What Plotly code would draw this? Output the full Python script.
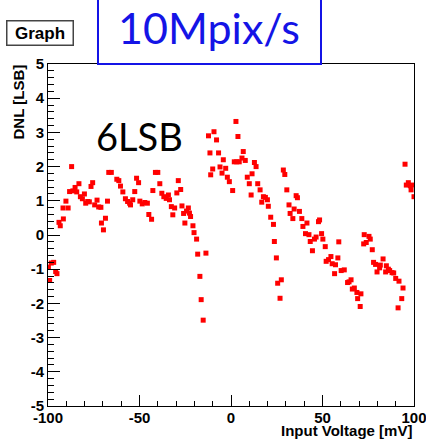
import plotly.graph_objects as go

# Input voltage [mV]
voltage = [
    -99.8, -99.1, -98.2, -96.9, -95.8, -95.1,
    -94.0, -93.3, -91.6, -91.8, -90.2, -89.0, -88.2, -87.1, -86.4, -85.2, -84.3, -83.1,
    -82.3, -81.2, -80.1, -79.4, -78.3, -77.4, -76.5, -75.6, -74.5, -73.2, -72.3, -71.1,
    -70.8, -69.7, -68.6, -67.5, -66.8, -65.4, -62.4, -61.3, -60.4, -59.1, -57.7, -56.5,
    -55.4, -54.9, -53.7, -52.6, -51.6, -50.5, -49.8, -48.5, -47.1, -45.7, -44.9, -43.4,
    -42.7, -41.3, -40.0, -38.9, -37.8, -36.7, -35.4, -34.2, -33.6, -32.6, -31.8, -30.8,
    -29.6, -28.8, -27.5, -26.8, -25.9, -25.2, -24.3, -23.3, -22.7, -22.1, -20.8, -20.2,
    -18.8, -18.2, -13.7, -17.0, -16.3, -15.2,
    -12.3, -11.5, -11.1, -10.0, -9.3, -7.9, -6.8, -6.0, -4.9, -4.2, -2.9, -2.0, -0.9, 0.9,
    2.7, 3.8, 1.8, 3.1, 4.5, 6.0, 6.7, 7.8, 8.9, 10.0, 11.0, 11.5, 12.8, 13.7, 14.6, 15.9,
    16.8, 17.7, 18.8, 19.9, 20.4, 21.7, 23.2, 23.7, 24.8, 25.5, 27.5, 26.8,
    28.6, 29.4, 30.5, 31.7, 32.3, 33.8, 34.5, 35.6, 36.3, 37.4, 38.7, 39.3, 41.5, 40.7,
    42.6, 43.3, 44.5, 45.6, 46.5, 47.8, 48.4, 49.5, 50.2, 51.5, 52.0, 53.3, 54.6, 55.3,
    56.6, 57.1, 58.4, 58.9, 60.2, 61.9, 63.7, 64.5, 65.6, 66.3, 67.4, 68.8, 69.2, 71.0, 70.6,
    72.8, 72.5, 73.9, 75.4, 76.1, 77.2, 77.9, 79.0, 79.8, 81.2, 81.6, 83.1, 84.5, 84.9,
    86.0, 86.7, 88.0, 88.9, 90.0, 91.8, 94.0, 93.3, 91.3,
    95.1, 95.8, 96.9, 98.0, 98.4, 99.1, 100.0,
]

# DNL [LSB]
dnl = [
    -0.94, -1.33, -0.82, -0.80, -1.07, -1.13,
    0.37, 0.27, 0.47, 0.79, 0.99, 0.79, 1.27, 2.00, 1.29, 1.39, 1.26, 1.50,
    1.12, 1.06, 1.20, 0.93, 0.98, 0.97, 1.42, 1.53, 0.88, 1.02, 0.82, 0.81,
    0.35, 0.15, 0.49, 0.99, 1.83, 1.83, 1.63, 1.59, 1.43, 1.26, 1.06, 0.98,
    0.93, 0.88, 1.03, 1.27, 1.66, 1.53, 0.99, 0.91, 0.95, 0.93, 0.60, 0.46,
    1.30, 1.83, 1.83, 1.50, 1.22, 1.12, 1.07, 1.17, 1.03, 0.83, 0.59, 0.79,
    1.23, 1.59, 1.33, 0.85, 0.63, 0.35, 0.70, 0.79, 0.64, 0.54, 0.27, 0.07,
    -0.12, -0.56, -0.53, -1.21, -1.89, -2.49,
    2.90, 2.40, 1.76, 1.93, 3.02, 2.78, 2.40, 1.99, 1.81, 2.20, 1.95, 1.69, 1.56, 1.30,
    3.32, 2.88, 2.14, 2.14, 2.14, 2.25, 2.44, 2.18, 1.69, 1.50, 1.17, 1.79, 2.12, 2.00, 1.50, 1.32,
    0.96, 1.12, 1.10, 1.03, 0.84, 0.52, 0.31, -0.19, -0.67, -1.41, -1.31, -1.85,
    1.90, 1.77, 1.32, 0.88, 0.63, 0.48, 0.76, 1.15, 1.09, 0.69, 0.48, 0.25, 0.35, 0.04,
    0.01, -0.19, -0.46, -0.12, -0.06, 0.39, 0.44, 0.04, -0.12, -0.34, -0.77, -0.72, -0.63, -0.84,
    -1.13, -0.87, -0.67, -0.20, -1.04, -1.02, -1.39, -1.37, -1.31, -1.58, -1.55, -1.68, -1.86, -1.72, -2.09,
    0.01, -0.26, -0.22, -0.04, -0.12, -0.43, -0.80, -0.86, -1.08, -0.96, -0.88, -0.70, -1.08, -0.90,
    -1.00, -1.04, -1.10, -1.11, -1.27, -1.35, -1.55, -1.86, -2.13,
    2.07, 1.46, 1.53, 1.44, 1.32, 1.46, 1.12,
]

x_ticks = [-100, -50, 0, 50, 100]
y_ticks = [-5, -4, -3, -2, -1, 0, 1, 2, 3, 4, 5]

BOLD = dict(family="Liberation Sans, Arial, sans-serif", size=15, color="black", weight="bold")

fig = go.Figure()
fig.add_trace(go.Scatter(
    x=voltage, y=dnl, mode="markers",
    marker=dict(symbol="square", size=5, color="#ff0000", line=dict(width=0)),
    showlegend=False,
))

fig.update_layout(
    width=426, height=444,
    margin=dict(l=48, r=12, t=64, b=38, autoexpand=False),
    paper_bgcolor="white", plot_bgcolor="white",
    xaxis=dict(
        range=[-100, 100], tickvals=x_ticks, ticktext=[str(v) for v in x_ticks],
        ticks="inside", ticklen=11, tickwidth=1, tickcolor="black",
        minor=dict(dtick=10, ticks="inside", ticklen=5, tickwidth=1, tickcolor="black"),
        showline=True, linecolor="black", linewidth=1, mirror=True,
        showgrid=False, zeroline=False, tickfont=BOLD,
        ticklabeloverflow="allow", ticklabelstandoff=-2, automargin=False,
    ),
    yaxis=dict(
        range=[-5, 5], tickvals=y_ticks, ticktext=[str(v) for v in y_ticks],
        ticks="inside", ticklen=12, tickwidth=1, tickcolor="black",
        minor=dict(dtick=0.2, ticks="inside", ticklen=6, tickwidth=1, tickcolor="black"),
        showline=True, linecolor="black", linewidth=1, mirror=True,
        showgrid=False, zeroline=False, tickfont=BOLD,
        ticklabeloverflow="allow", automargin=False,
    ),
    shapes=[
        dict(type="rect", xref="paper", yref="paper", x0=0.1366, x1=0.7459, y0=1.0, y1=1.25,
             line=dict(color="#1414e6", width=2), fillcolor="rgba(0,0,0,0)", layer="above"),
    ],
    annotations=[
        dict(text="Graph", xref="paper", yref="paper", x=-0.023, y=1.0906, xanchor="center",
             yanchor="middle", showarrow=False,
             font=dict(family="Liberation Sans, Arial, sans-serif", size=17, color="black", weight="bold"),
             bordercolor="#444444", borderwidth=1.5, borderpad=2, bgcolor="white", width=61),
        dict(text="10Mpix/s", xref="paper", yref="paper", x=0.441, y=1.108, xanchor="center",
             yanchor="middle", showarrow=False,
             font=dict(family="Lato, sans-serif", size=43, color="#1414e6")),
        dict(text="6LSB", xref="paper", yref="paper", x=0.251, y=0.79, xanchor="center",
             yanchor="middle", showarrow=False,
             font=dict(family="Lato, sans-serif", size=38, color="black")),
        dict(text="DNL [LSB]", xref="paper", yref="paper", x=0, xshift=-30, y=1.0, yshift=1,
             xanchor="center", yanchor="top", textangle=-90, showarrow=False, font=BOLD),
        dict(text="Input Voltage [mV]", xref="paper", yref="paper", x=1.0, y=-0.073,
             xanchor="right", yanchor="middle", showarrow=False, font=BOLD),
    ],
)

fig.write_html("out.html")
